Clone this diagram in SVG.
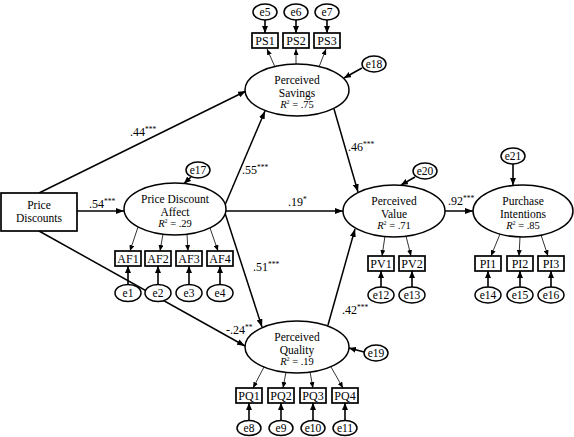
<svg xmlns="http://www.w3.org/2000/svg" width="574" height="437" viewBox="0 0 574 437" font-family="'Liberation Serif', 'Times New Roman', serif">
<defs>
<style>
text{font-family:"Liberation Serif","Times New Roman",serif;fill:#000}
.nm{font-size:11.5px;text-anchor:middle}
.bx{font-size:12px;text-anchor:middle}
.r2{font-size:10.5px;text-anchor:middle}
.lbl{font-size:12px}
.st{font-size:7.5px}
.box{fill:#fff;stroke:#000;stroke-width:1.7}
.lat{fill:#fff;stroke:#000;stroke-width:1.5}
.err{fill:#fff;stroke:#000;stroke-width:1.5}
.path{stroke:#000;stroke-width:1.5;fill:none;marker-end:url(#ah)}
.load{stroke:#000;stroke-width:0.8;fill:none;marker-end:url(#ahs)}
.eline{stroke:#000;stroke-width:1.6;fill:none;marker-end:url(#ahe)}
</style>
<marker id="ah" markerUnits="userSpaceOnUse" markerWidth="8" markerHeight="6" refX="8" refY="3" orient="auto"><path d="M0,0 L8,3 L0,6 z" fill="#000"/></marker>
<marker id="ahs" markerUnits="userSpaceOnUse" markerWidth="6" markerHeight="5" refX="6" refY="2.5" orient="auto"><path d="M0,0 L6,2.5 L0,5 z" fill="#000"/></marker>
<marker id="ahe" markerUnits="userSpaceOnUse" markerWidth="7" markerHeight="6" refX="7" refY="3" orient="auto"><path d="M0,0 L7,3 L0,6 z" fill="#000"/></marker>
</defs>
<rect width="574" height="437" fill="#fff"/>
<g id="connectors">
<line class="path" x1="39" y1="193" x2="246" y2="91"/>
<line class="path" x1="77" y1="211" x2="124" y2="211"/>
<line class="path" x1="39" y1="231" x2="245" y2="346"/>
<line class="path" x1="225" y1="205" x2="265" y2="111"/>
<line class="path" x1="226" y1="211" x2="343" y2="211"/>
<line class="path" x1="225" y1="213" x2="262" y2="327"/>
<line class="path" x1="334" y1="109" x2="358" y2="192"/>
<line class="path" x1="328" y1="325" x2="355" y2="229"/>
<line class="path" x1="445" y1="211" x2="473" y2="211"/>
<line class="load" x1="275" y1="67" x2="267" y2="49"/>
<line class="load" x1="296" y1="64" x2="296" y2="49"/>
<line class="load" x1="319" y1="67" x2="326" y2="49"/>
<line class="load" x1="138" y1="227" x2="130" y2="251"/>
<line class="load" x1="163" y1="234" x2="160" y2="251"/>
<line class="load" x1="187" y1="234" x2="188" y2="251"/>
<line class="load" x1="210" y1="228" x2="218" y2="251"/>
<line class="load" x1="385" y1="236" x2="382" y2="256"/>
<line class="load" x1="406" y1="236" x2="411" y2="256"/>
<line class="load" x1="500" y1="234" x2="491" y2="256"/>
<line class="load" x1="520" y1="237" x2="519" y2="256"/>
<line class="load" x1="541" y1="235" x2="548" y2="256"/>
<line class="load" x1="264" y1="367" x2="253" y2="388"/>
<line class="load" x1="286" y1="372" x2="283" y2="388"/>
<line class="load" x1="310" y1="372" x2="313" y2="388"/>
<line class="load" x1="331" y1="367" x2="343" y2="388"/>
<line class="eline" x1="265" y1="20" x2="265" y2="33"/>
<line class="eline" x1="296" y1="20" x2="296" y2="33"/>
<line class="eline" x1="327" y1="20" x2="327" y2="33"/>
<line class="eline" x1="362" y1="68" x2="344" y2="78"/>
<line class="eline" x1="191" y1="177" x2="184" y2="183.5"/>
<line class="eline" x1="128" y1="284.5" x2="128" y2="266"/>
<line class="eline" x1="158" y1="284.5" x2="158" y2="266"/>
<line class="eline" x1="189" y1="284.5" x2="189" y2="266"/>
<line class="eline" x1="220" y1="284.5" x2="220" y2="266"/>
<line class="eline" x1="415" y1="177" x2="401" y2="185"/>
<line class="eline" x1="381" y1="287" x2="381" y2="271"/>
<line class="eline" x1="412" y1="287" x2="412" y2="271"/>
<line class="eline" x1="513" y1="164" x2="513" y2="185"/>
<line class="eline" x1="488" y1="287" x2="488" y2="271"/>
<line class="eline" x1="520" y1="287" x2="520" y2="271"/>
<line class="eline" x1="551" y1="287" x2="551" y2="271"/>
<line class="eline" x1="364" y1="352" x2="349" y2="348"/>
<line class="eline" x1="249" y1="420.5" x2="249" y2="403"/>
<line class="eline" x1="281" y1="420.5" x2="281" y2="403"/>
<line class="eline" x1="313" y1="420.5" x2="313" y2="403"/>
<line class="eline" x1="345" y1="420.5" x2="345" y2="403"/>
<text class="lbl" x="130" y="136">.44<tspan class="st" dy="-4">***</tspan></text>
<text class="lbl" x="89" y="208">.54<tspan class="st" dy="-4">***</tspan></text>
<text class="lbl" x="226" y="334">-.24<tspan class="st" dy="-4">**</tspan></text>
<text class="lbl" x="242" y="174">.55<tspan class="st" dy="-4">***</tspan></text>
<text class="lbl" x="288" y="206">.19<tspan class="st" dy="-4">*</tspan></text>
<text class="lbl" x="253" y="271">.51<tspan class="st" dy="-4">***</tspan></text>
<text class="lbl" x="348" y="151">.46<tspan class="st" dy="-4">***</tspan></text>
<text class="lbl" x="342" y="314">.42<tspan class="st" dy="-4">***</tspan></text>
<text class="lbl" x="448" y="205">.92<tspan class="st" dy="-4">***</tspan></text>
</g>
<g id="PriceDiscounts"><rect class="box" x="1" y="193" width="76" height="38"/><text class="nm" x="39" y="209">Price</text><text class="nm" x="39" y="222">Discounts</text></g>
<g id="PerceivedSavings"><ellipse class="lat" cx="297" cy="90" rx="52" ry="26"/><text class="nm" x="297" y="84">Perceived</text><text class="nm" x="297" y="97">Savings</text><text class="r2" x="297" y="108"><tspan font-style="italic">R</tspan><tspan font-size="6" dy="-4">2</tspan><tspan dy="4"> = .75</tspan></text></g>
<g id="PriceDiscountAffect"><ellipse class="lat" cx="175" cy="209" rx="51" ry="26"/><text class="nm" x="175" y="203">Price Discount</text><text class="nm" x="175" y="216">Affect</text><text class="r2" x="175" y="227"><tspan font-style="italic">R</tspan><tspan font-size="6" dy="-4">2</tspan><tspan dy="4"> = .29</tspan></text></g>
<g id="PerceivedValue"><ellipse class="lat" cx="394" cy="211" rx="51" ry="26"/><text class="nm" x="394" y="205">Perceived</text><text class="nm" x="394" y="218">Value</text><text class="r2" x="394" y="229"><tspan font-style="italic">R</tspan><tspan font-size="6" dy="-4">2</tspan><tspan dy="4"> = .71</tspan></text></g>
<g id="PurchaseIntentions"><ellipse class="lat" cx="523" cy="211" rx="50" ry="26"/><text class="nm" x="523" y="205">Purchase</text><text class="nm" x="523" y="218">Intentions</text><text class="r2" x="523" y="229"><tspan font-style="italic">R</tspan><tspan font-size="6" dy="-4">2</tspan><tspan dy="4"> = .85</tspan></text></g>
<g id="PerceivedQuality"><ellipse class="lat" cx="297" cy="347" rx="52" ry="26"/><text class="nm" x="297" y="341">Perceived</text><text class="nm" x="297" y="354">Quality</text><text class="r2" x="297" y="365"><tspan font-style="italic">R</tspan><tspan font-size="6" dy="-4">2</tspan><tspan dy="4"> = .19</tspan></text></g>
<g id="PS1"><rect class="box" x="252" y="33" width="26" height="15"/><text class="bx" x="265" y="44.5">PS1</text></g>
<g id="PS2"><rect class="box" x="283" y="33" width="26" height="15"/><text class="bx" x="296" y="44.5">PS2</text></g>
<g id="PS3"><rect class="box" x="314" y="33" width="26" height="15"/><text class="bx" x="327" y="44.5">PS3</text></g>
<g id="AF1"><rect class="box" x="115" y="251" width="26" height="15"/><text class="bx" x="128" y="262.5">AF1</text></g>
<g id="AF2"><rect class="box" x="145" y="251" width="26" height="15"/><text class="bx" x="158" y="262.5">AF2</text></g>
<g id="AF3"><rect class="box" x="176" y="251" width="26" height="15"/><text class="bx" x="189" y="262.5">AF3</text></g>
<g id="AF4"><rect class="box" x="207" y="251" width="26" height="15"/><text class="bx" x="220" y="262.5">AF4</text></g>
<g id="PV1"><rect class="box" x="368" y="256" width="26" height="15"/><text class="bx" x="381" y="267.5">PV1</text></g>
<g id="PV2"><rect class="box" x="399" y="256" width="26" height="15"/><text class="bx" x="412" y="267.5">PV2</text></g>
<g id="PI1"><rect class="box" x="475" y="256" width="26" height="15"/><text class="bx" x="488" y="267.5">PI1</text></g>
<g id="PI2"><rect class="box" x="507" y="256" width="26" height="15"/><text class="bx" x="520" y="267.5">PI2</text></g>
<g id="PI3"><rect class="box" x="538" y="256" width="26" height="15"/><text class="bx" x="551" y="267.5">PI3</text></g>
<g id="PQ1"><rect class="box" x="236" y="388" width="26" height="15"/><text class="bx" x="249" y="399.5">PQ1</text></g>
<g id="PQ2"><rect class="box" x="268" y="388" width="26" height="15"/><text class="bx" x="281" y="399.5">PQ2</text></g>
<g id="PQ3"><rect class="box" x="300" y="388" width="26" height="15"/><text class="bx" x="313" y="399.5">PQ3</text></g>
<g id="PQ4"><rect class="box" x="332" y="388" width="26" height="15"/><text class="bx" x="345" y="399.5">PQ4</text></g>
<g id="e5"><ellipse class="err" cx="265" cy="12" rx="12" ry="8"/><text class="nm" x="265" y="15.5">e5</text></g>
<g id="e6"><ellipse class="err" cx="296" cy="12" rx="12" ry="8"/><text class="nm" x="296" y="15.5">e6</text></g>
<g id="e7"><ellipse class="err" cx="327" cy="12" rx="12" ry="8"/><text class="nm" x="327" y="15.5">e7</text></g>
<g id="e18"><ellipse class="err" cx="374" cy="64" rx="12" ry="8"/><text class="nm" x="374" y="67.5">e18</text></g>
<g id="e17"><ellipse class="err" cx="198" cy="170" rx="12" ry="8"/><text class="nm" x="198" y="173.5">e17</text></g>
<g id="e20"><ellipse class="err" cx="425" cy="171" rx="12" ry="8"/><text class="nm" x="425" y="174.5">e20</text></g>
<g id="e21"><ellipse class="err" cx="513" cy="156" rx="12" ry="8"/><text class="nm" x="513" y="159.5">e21</text></g>
<g id="e1"><ellipse class="err" cx="128" cy="293" rx="13" ry="8.5"/><text class="nm" x="128" y="296.5">e1</text></g>
<g id="e2"><ellipse class="err" cx="158" cy="293" rx="13" ry="8.5"/><text class="nm" x="158" y="296.5">e2</text></g>
<g id="e3"><ellipse class="err" cx="189" cy="293" rx="13" ry="8.5"/><text class="nm" x="189" y="296.5">e3</text></g>
<g id="e4"><ellipse class="err" cx="220" cy="293" rx="13" ry="8.5"/><text class="nm" x="220" y="296.5">e4</text></g>
<g id="e12"><ellipse class="err" cx="381" cy="295" rx="13" ry="8"/><text class="nm" x="381" y="298.5">e12</text></g>
<g id="e13"><ellipse class="err" cx="412" cy="295" rx="13" ry="8"/><text class="nm" x="412" y="298.5">e13</text></g>
<g id="e14"><ellipse class="err" cx="488" cy="295" rx="13" ry="8"/><text class="nm" x="488" y="298.5">e14</text></g>
<g id="e15"><ellipse class="err" cx="520" cy="295" rx="13" ry="8"/><text class="nm" x="520" y="298.5">e15</text></g>
<g id="e16"><ellipse class="err" cx="551" cy="295" rx="13" ry="8"/><text class="nm" x="551" y="298.5">e16</text></g>
<g id="e19"><ellipse class="err" cx="376" cy="353" rx="12" ry="8"/><text class="nm" x="376" y="356.5">e19</text></g>
<g id="e8"><ellipse class="err" cx="249" cy="428" rx="12" ry="7.5"/><text class="nm" x="249" y="431.5">e8</text></g>
<g id="e9"><ellipse class="err" cx="281" cy="428" rx="12" ry="7.5"/><text class="nm" x="281" y="431.5">e9</text></g>
<g id="e10"><ellipse class="err" cx="313" cy="428" rx="12" ry="7.5"/><text class="nm" x="313" y="431.5">e10</text></g>
<g id="e11"><ellipse class="err" cx="345" cy="428" rx="12" ry="7.5"/><text class="nm" x="345" y="431.5">e11</text></g>
</svg>
